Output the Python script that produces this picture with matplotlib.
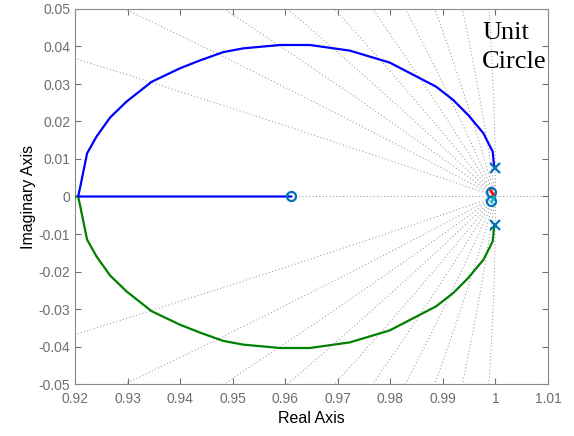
import numpy as np
import matplotlib
matplotlib.use("Agg")
import matplotlib.pyplot as plt

# ---- data ----
upper_re = [0.99985, 0.99972, 0.99947, 0.99769, 0.99483, 0.9920, 0.9887, 0.9799,
            0.9723, 0.9647, 0.9590, 0.9520, 0.9482, 0.9438, 0.9400, 0.9346,
            0.9298, 0.9267, 0.9241, 0.9223, 0.9210, 0.9206, 0.9611]
upper_im = [0.0076, 0.0084, 0.0120, 0.0169, 0.0217, 0.0257, 0.0293, 0.0357,
            0.0389, 0.0404, 0.0404, 0.0395, 0.0385, 0.0363, 0.0342, 0.0306,
            0.0253, 0.0211, 0.0160, 0.0115, 0.0026, 0.0, 0.0]
lower_re = [0.99985, 0.99972, 0.99947, 0.99769, 0.99483, 0.9920, 0.9887, 0.9799,
            0.9723, 0.9647, 0.9590, 0.9520, 0.9482, 0.9438, 0.9400, 0.9346,
            0.9298, 0.9267, 0.9241, 0.9223, 0.9210, 0.9206, 0.90]
lower_im = [-0.0076, -0.0084, -0.0120, -0.0169, -0.0217, -0.0257, -0.0293, -0.0357,
            -0.0389, -0.0404, -0.0404, -0.0395, -0.0385, -0.0363, -0.0342, -0.0306,
            -0.0253, -0.0211, -0.0160, -0.0115, -0.0026, 0.0, 0.0]
red_re = [0.99975, 0.99912]
red_im = [0.0001, 0.0016]
cyan_re = [0.99975, 0.99928]
cyan_im = [-0.0001, -0.0014]
poles_re = [0.99985, 0.99985]
poles_im = [0.0076, -0.0076]
zeros_re = [0.9611, 0.99915, 0.99915]
zeros_im = [0.0, 0.0011, -0.0011]
zeta_values = [0.1, 0.2, 0.3, 0.4, 0.5, 0.6, 0.7, 0.8, 0.9]
xticks = [0.92, 0.93, 0.94, 0.95, 0.96, 0.97, 0.98, 0.99, 1.0, 1.01]
xticklabels = ["0.92", "0.93", "0.94", "0.95", "0.96", "0.97", "0.98", "0.99", "1", "1.01"]
yticks = [-0.05, -0.04, -0.03, -0.02, -0.01, 0.0, 0.01, 0.02, 0.03, 0.04, 0.05]
yticklabels = ["-0.05", "-0.04", "-0.03", "-0.02", "-0.01", "0", "0.01", "0.02", "0.03", "0.04", "0.05"]
note_lines = ["Unit", "Circle"]

plt.rcParams['font.family'] = ['Liberation Sans', 'DejaVu Sans']

fig = plt.figure(figsize=(5.74, 4.36), dpi=100)
ax = fig.add_axes([75/574, 52/436, 473/574, 375/436])

gcol = '0.55'
gkw = dict(color=gcol, lw=0.7, ls=(0, (1, 2.5)), zorder=1)
# damping-ratio grid (zgrid style)
phi = np.linspace(0, np.pi, 4000)
for z in zeta_values:
    k = z / np.sqrt(1 - z * z)
    r = np.exp(-k * phi)
    ax.plot(r * np.cos(phi), r * np.sin(phi), **gkw)
    ax.plot(r * np.cos(phi), -r * np.sin(phi), **gkw)
# unit circle
ax.plot(np.cos(phi), np.sin(phi), **gkw)
ax.plot(np.cos(phi), -np.sin(phi), **gkw)
# real axis
ax.plot([0.0, 1.1], [0, 0], **gkw)

ax.plot(lower_re, lower_im, color=(0, 0.5, 0), lw=1.6, zorder=3)
ax.plot(upper_re, upper_im, color=(0, 0, 1), lw=1.6, zorder=3)

mcol = '#0072BD'
ax.plot(poles_re, poles_im, ls='none', marker='x', ms=6.5, mew=1.6, color=mcol, zorder=4)
ax.plot(zeros_re, zeros_im, ls='none', marker='o', ms=6.5, mew=1.6, mfc='none', color=mcol, zorder=4)
ax.plot(red_re, red_im, color=(1, 0, 0), lw=1.8, zorder=5)
ax.plot(cyan_re, cyan_im, color=(0, 0.75, 0.75), lw=1.8, zorder=5)

ax.set_xlim(0.92, 1.01)
ax.set_ylim(-0.05, 0.05)
ax.set_xticks(xticks)
ax.set_xticklabels(xticklabels)
ax.set_yticks(yticks)
ax.set_yticklabels(yticklabels)

tcol = '#6e6e6e'
ax.tick_params(direction='in', length=4, width=0.8, colors=tcol, labelsize=10,
               top=True, right=True, labelcolor=tcol)
ax.tick_params(axis='x', pad=6)
for s in ax.spines.values():
    s.set_color('#8a8a8a')
    s.set_linewidth(0.8)

ax.set_xlabel('Real Axis', fontsize=11.5, color='black', labelpad=3)
ax.set_ylabel('Imaginary Axis', fontsize=11.5, color='black', labelpad=2)

serif = ['Liberation Serif', 'DejaVu Serif']
fig.text(482/574, 1 - 39/436, note_lines[0], family=serif, fontsize=19,
         ha='left', va='baseline')
fig.text(482/574, 1 - 68/436, note_lines[1], family=serif, fontsize=19,
         ha='left', va='baseline')

fig.savefig('out.png', dpi=100)
